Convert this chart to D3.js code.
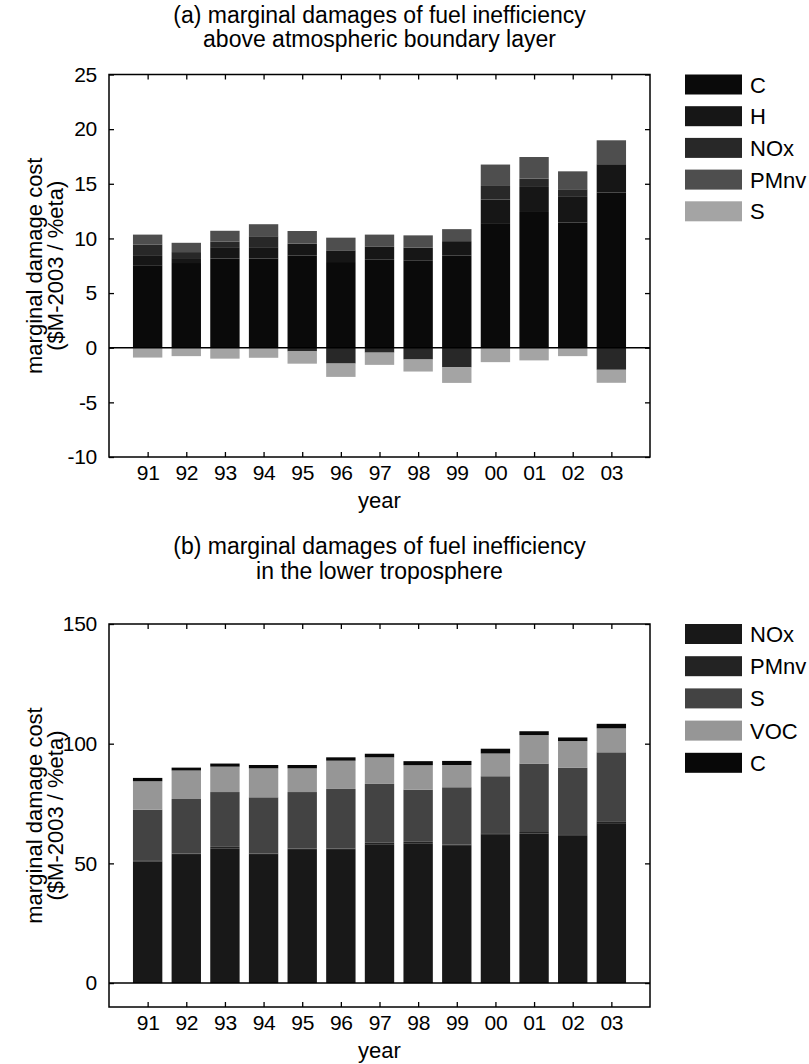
<!DOCTYPE html>
<html>
<head>
<meta charset="utf-8">
<script src="https://cdn.jsdelivr.net/npm/d3@7"></script>
<style>
  html, body { margin: 0; padding: 0; background: #fff; }
  svg { display: block; }
  text { font-family: "Liberation Sans", Arial, Helvetica, sans-serif; fill: #000; }
</style>
</head>
<body>
<svg id="fig" width="809" height="1064"></svg>
<script>
// ---- data -------------------------------------------------------------
const years = ["91","92","93","94","95","96","97","98","99","00","01","02","03"];

// (a) above atmospheric boundary layer, $M-2003 per %eta
const seriesA = ["C", "H", "NOx", "PMnv", "S"];
const aC    = [7.55, 7.75, 8.15, 8.15, 8.45, 7.84, 8.05, 8.00, 8.45, 11.40, 12.42, 11.44, 14.19];
const aH    = [0.85, 0.45, 1.05, 1.05, 1.07, 1.07, 1.18, 1.15, 1.30, 2.15, 2.29, 2.36, 2.60];
const aNOx  = [1.05, 0.55, 0.50, 1.00, -0.34, -1.45, -0.45, -1.08, -1.80, 1.25, 0.76, 0.70, -2.02];
const aPMnv = [0.90, 0.85, 1.00, 1.10, 1.16, 1.16, 1.12, 1.13, 1.10, 1.96, 1.98, 1.64, 2.19];
const aS    = [-0.90, -0.77, -1.00, -0.92, -1.12, -1.22, -1.12, -1.10, -1.42, -1.32, -1.16, -0.77, -1.19];
const colorsA = ["#0a0a0a", "#161616", "#282828", "#4e4e4e", "#a4a4a4"];
const yTicksA = [-10, -5, 0, 5, 10, 15, 20, 25];

// (b) lower troposphere, $M-2003 per %eta
const seriesB = ["NOx", "PMnv", "S", "VOC", "C"];
const bNOx  = [50.7, 53.5, 56.3, 53.5, 55.6, 55.6, 58.0, 58.4, 57.3, 61.9, 62.4, 61.5, 66.8];
const bPMnv = [0.6, 0.6, 0.6, 0.6, 0.6, 0.6, 0.6, 0.6, 0.6, 0.7, 0.7, 0.7, 0.8];
const bS    = [21.1, 22.8, 22.9, 23.5, 23.6, 24.9, 24.6, 21.8, 23.9, 23.8, 28.6, 27.7, 28.8];
const bVOC  = [11.9, 11.9, 10.6, 12.1, 9.9, 11.8, 11.1, 10.2, 9.3, 9.5, 11.9, 11.2, 10.0];
const bC    = [1.4, 1.2, 1.3, 1.4, 1.4, 1.4, 1.5, 1.7, 1.7, 2.0, 1.6, 1.5, 1.9];
const colorsB = ["#181818", "#232323", "#434343", "#969696", "#080808"];
const yTicksB = [0, 50, 100, 150];

// ---- drawing ----------------------------------------------------------
const svg = d3.select("#fig");
const FS = 22;      // axis titles, legend
const FS_TICK = 21; // tick labels
const FS_T = 23;    // panel titles
const box = { left: 109, right: 650 };

function panel(opt) {
  const g = svg.append("g");
  const x = d3.scaleLinear().domain([0, years.length + 1]).range([box.left, box.right]);
  const y = d3.scaleLinear().domain(opt.yDomain).range([opt.bottom, opt.top]);
  const barW = x(0.76) - x(0);

  // rows: one object per year with a field per series
  const rows = years.map((yr, i) => {
    const r = { year: yr, idx: i + 1 };
    opt.series.forEach((s, k) => { r[s] = opt.values[k][i]; });
    return r;
  });
  const stacked = d3.stack().keys(opt.series).offset(d3.stackOffsetDiverging)(rows);

  // bars
  stacked.forEach((layer, k) => {
    g.append("g").attr("fill", opt.colors[k])
      .selectAll("rect").data(layer).join("rect")
      .attr("x", d => x(d.data.idx) - barW / 2)
      .attr("width", barW)
      .attr("y", d => y(Math.max(d[0], d[1])))
      .attr("height", d => Math.abs(y(d[0]) - y(d[1])));
  });

  // zero line
  g.append("line")
    .attr("x1", box.left).attr("x2", box.right)
    .attr("y1", y(0)).attr("y2", y(0))
    .attr("stroke", "#000").attr("stroke-width", 1.5);

  // axes with inward ticks on all four sides
  const styleAxis = sel => {
    sel.select(".domain").remove();
    sel.selectAll("line").attr("stroke", "#000").attr("stroke-width", 1.3);
    sel.selectAll("text").style("font-size", FS_TICK + "px")
      .style("letter-spacing", "-0.3px").attr("fill", "#000");
  };
  const xTickVals = d3.range(1, years.length + 1);
  g.append("g").attr("transform", `translate(0,${opt.bottom})`)
    .call(d3.axisBottom(x).tickValues(xTickVals).tickFormat(d => years[d - 1])
      .tickSizeInner(-5).tickSizeOuter(0).tickPadding(8))
    .call(styleAxis);
  g.append("g").attr("transform", `translate(0,${opt.top})`)
    .call(d3.axisTop(x).tickValues(xTickVals).tickFormat("")
      .tickSizeInner(-5).tickSizeOuter(0))
    .call(styleAxis);
  g.append("g").attr("transform", `translate(${box.left},0)`)
    .call(d3.axisLeft(y).tickValues(opt.yTicks).tickFormat(d => String(d))
      .tickSizeInner(-5).tickSizeOuter(0).tickPadding(12))
    .call(styleAxis);
  g.append("g").attr("transform", `translate(${box.right},0)`)
    .call(d3.axisRight(y).tickValues(opt.yTicks).tickFormat("")
      .tickSizeInner(-5).tickSizeOuter(0))
    .call(styleAxis);

  // frame
  g.append("rect")
    .attr("x", box.left).attr("y", opt.top)
    .attr("width", box.right - box.left).attr("height", opt.bottom - opt.top)
    .attr("fill", "none").attr("stroke", "#000").attr("stroke-width", 1.5);

  // titles
  const cx = (box.left + box.right) / 2;
  opt.title.forEach((t, i) => {
    g.append("text").attr("x", cx).attr("y", opt.titleY + i * 24.5)
      .attr("text-anchor", "middle").style("font-size", FS_T + "px").text(t);
  });
  g.append("text").attr("x", cx).attr("y", opt.bottom + 51)
    .attr("text-anchor", "middle").style("font-size", FS + "px").text("year");
  const cy = (opt.top + opt.bottom) / 2;
  ["marginal damage cost", "($M-2003 / %eta)"].forEach((t, i) => {
    g.append("text")
      .attr("transform", `translate(${42 + i * 21},${cy}) rotate(-90)`)
      .attr("text-anchor", "middle").style("font-size", FS + "px").text(t);
  });

  // legend
  const leg = g.append("g").attr("transform", `translate(685,${opt.top})`);
  opt.series.forEach((s, k) => {
    const row = leg.append("g").attr("transform", `translate(0,${k * opt.legStep})`);
    row.append("rect").attr("width", 57).attr("height", 20).attr("fill", opt.colors[k]);
    row.append("text").attr("x", 65).attr("y", 18)
      .style("font-size", FS + "px").text(s);
  });
}

panel({
  top: 74.5, bottom: 457, yDomain: [-10, 25], yTicks: yTicksA,
  series: seriesA, values: [aC, aH, aNOx, aPMnv, aS], colors: colorsA,
  legStep: 31.7, titleY: 22.5,
  title: ["(a) marginal damages of fuel inefficiency", "above atmospheric boundary layer"]
});

panel({
  top: 624, bottom: 1007, yDomain: [-10, 150], yTicks: yTicksB,
  series: seriesB, values: [bNOx, bPMnv, bS, bVOC, bC], colors: colorsB,
  legStep: 32.2, titleY: 554,
  title: ["(b) marginal damages of fuel inefficiency", "in the lower troposphere"]
});
</script>
</body>
</html>
